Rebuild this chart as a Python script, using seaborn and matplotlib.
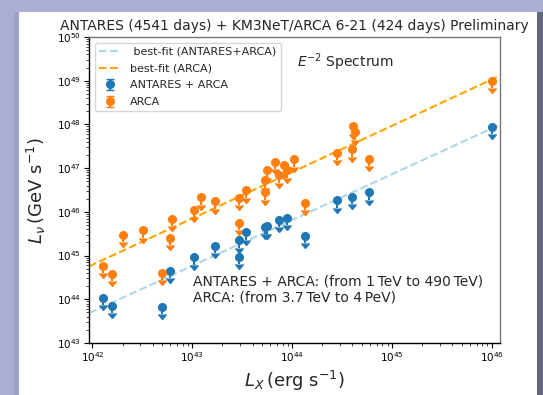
import numpy as np
import pandas as pd
import matplotlib
matplotlib.use("Agg")
import matplotlib.pyplot as plt
from matplotlib.patches import Rectangle
from matplotlib.lines import Line2D
import seaborn as sns

# ---------------- data ----------------
arca_lx = [1.28e42, 1.55e42, 2.04e42, 3.24e42, 5.0e42, 5.96e42, 6.3e42,
           1.05e43, 1.22e43, 1.68e43, 2.92e43, 2.92e43, 3.47e43, 5.37e43,
           5.37e43, 5.6e43, 6.7e43, 7.4e43, 8.2e43, 8.9e43, 1.05e44,
           1.35e44, 2.8e44, 4.0e44, 4.1e44, 4.2e44, 5.8e44, 1.0e46]
arca_lnu = [5.8e44, 3.8e44, 3.0e45, 3.8e45, 4.0e44, 2.5e45, 6.9e45,
            1.12e46, 2.14e46, 1.74e46, 2.09e46, 5.6e45, 3.1e46, 5.25e46,
            2.8e46, 8.9e46, 1.38e47, 6.8e46, 1.15e47, 8.9e46, 1.58e47,
            1.58e46, 2.24e47, 2.7e47, 9.1e47, 6.6e47, 1.66e47, 9.8e48]

comb_lx = [1.28e42, 1.55e42, 5.0e42, 5.96e42, 1.05e43, 1.68e43, 2.92e43,
           2.92e43, 3.47e43, 5.37e43, 5.6e43, 7.4e43, 8.9e43, 1.35e44,
           2.8e44, 4.0e44, 5.8e44, 1.0e46]
comb_lnu = [1.07e44, 7.1e43, 6.8e43, 4.4e44, 9.1e44, 1.66e45, 2.24e45,
            9.5e44, 3.4e45, 4.5e45, 4.7e45, 6.5e45, 7.2e45, 2.8e45,
            1.82e46, 2.2e46, 2.8e46, 8.9e47]

fit_lx = [1e41, 1e47]
fit_comb = [10 ** 42.67, 10 ** 48.96]
fit_arca = [10 ** 43.73, 10 ** 50.09]

title = "ANTARES (4541 days) + KM3NeT/ARCA 6-21 (424 days) Preliminary"
note = ("ANTARES + ARCA: (from 1\u2009TeV to 490\u2009TeV)\n"
        "ARCA: (from 3.7\u2009TeV to 4\u2009PeV)")

# ---------------- style ----------------
sns.set_theme(style="ticks")
plt.rcParams["font.family"] = ["DejaVu Sans"]
plt.rcParams["mathtext.fontset"] = "dejavusans"

W, H = 543, 395
fig = plt.figure(figsize=(W / 100, H / 100), dpi=100)
fig.patch.set_facecolor("#aaaed4")
# white slide area + shadow strips
for (x0, x1, col) in [(19, 537, "white"), (537, 543, "#66687e"), (14, 19, "#9ea1c6")]:
    fig.patches.append(Rectangle((x0 / W, 0), (x1 - x0) / W, (H - 12) / H,
                                 transform=fig.transFigure, facecolor=col,
                                 edgecolor="none", zorder=-10))

ax = fig.add_axes([89 / W, (H - 343) / H, 411 / W, 306 / H])
ax.set_zorder(1)
ax.set_facecolor("white")
ax.set_xscale("log")
ax.set_yscale("log")

c_blue = "#1f77b4"
c_orange = "#ff7f0e"
c_fit_blue = "#add8e6"
c_fit_orange = "#ffa500"

df_fit = pd.DataFrame({"lx": fit_lx * 2,
                       "lnu": fit_comb + fit_arca,
                       "fit": ["comb"] * 2 + ["arca"] * 2})
sns.lineplot(data=df_fit[df_fit.fit == "comb"], x="lx", y="lnu", ax=ax,
             color=c_fit_blue, linestyle="--", linewidth=1.5, legend=False)
sns.lineplot(data=df_fit[df_fit.fit == "arca"], x="lx", y="lnu", ax=ax,
             color=c_fit_orange, linestyle="--", linewidth=1.5, legend=False)

comb_y = np.array(comb_lnu)
arca_y = np.array(arca_lnu)
eb1 = ax.errorbar(comb_lx, comb_y, yerr=0.32 * comb_y, uplims=True, fmt="o",
                  color=c_blue, ms=5.5, elinewidth=1.5, capsize=2.6,
                  label="ANTARES + ARCA", zorder=3)
eb2 = ax.errorbar(arca_lx, arca_y, yerr=0.32 * arca_y, uplims=True, fmt="o",
                  color=c_orange, ms=5.5, elinewidth=1.5, capsize=2.6,
                  label="ARCA", zorder=3)

ax.set_xlim(10 ** 41.965, 10 ** 46.08)
ax.set_ylim(1e43, 1e50)

ax.tick_params(axis="both", which="major", labelsize=7.5, length=3.5,
               width=0.8, pad=2, colors="black")
ax.tick_params(axis="both", which="minor", length=2, width=0.6)
for s in ["left", "bottom"]:
    ax.spines[s].set_color("black")
    ax.spines[s].set_linewidth(1.0)
for s in ["top", "right"]:
    ax.spines[s].set_color("#777777")
    ax.spines[s].set_linewidth(1.0)

ax.set_xlabel(r"$L_X\,$(erg s$^{-1}$)", fontsize=13)
ax.set_ylabel(r"$L_\nu\,$(GeV s$^{-1}$)", fontsize=13)
ax.xaxis.set_label_coords(0.5, -0.085)
ax.yaxis.set_label_coords(-0.1, 0.497)

ax.set_title(title, fontsize=10, pad=5)

ax.text(0.506, 0.918, r"$E^{-2}$ Spectrum", transform=ax.transAxes,
        fontsize=10, va="center", ha="left")
ax.text(0.253, 0.175, note, transform=ax.transAxes, fontsize=10,
        va="center", ha="left", linespacing=1.25)

h_fit1 = Line2D([], [], color=c_fit_blue, linestyle="--", linewidth=1.5)
h_fit2 = Line2D([], [], color=c_fit_orange, linestyle="--", linewidth=1.5)
ax.legend([h_fit1, h_fit2, eb1, eb2],
          [" best-fit (ANTARES+ARCA)", "best-fit (ARCA)", "ANTARES + ARCA", "ARCA"],
          loc="upper left", fontsize=8, frameon=True, borderaxespad=0.5,
          labelspacing=0.6)

fig.savefig("out.png", dpi=100, facecolor=fig.get_facecolor())
